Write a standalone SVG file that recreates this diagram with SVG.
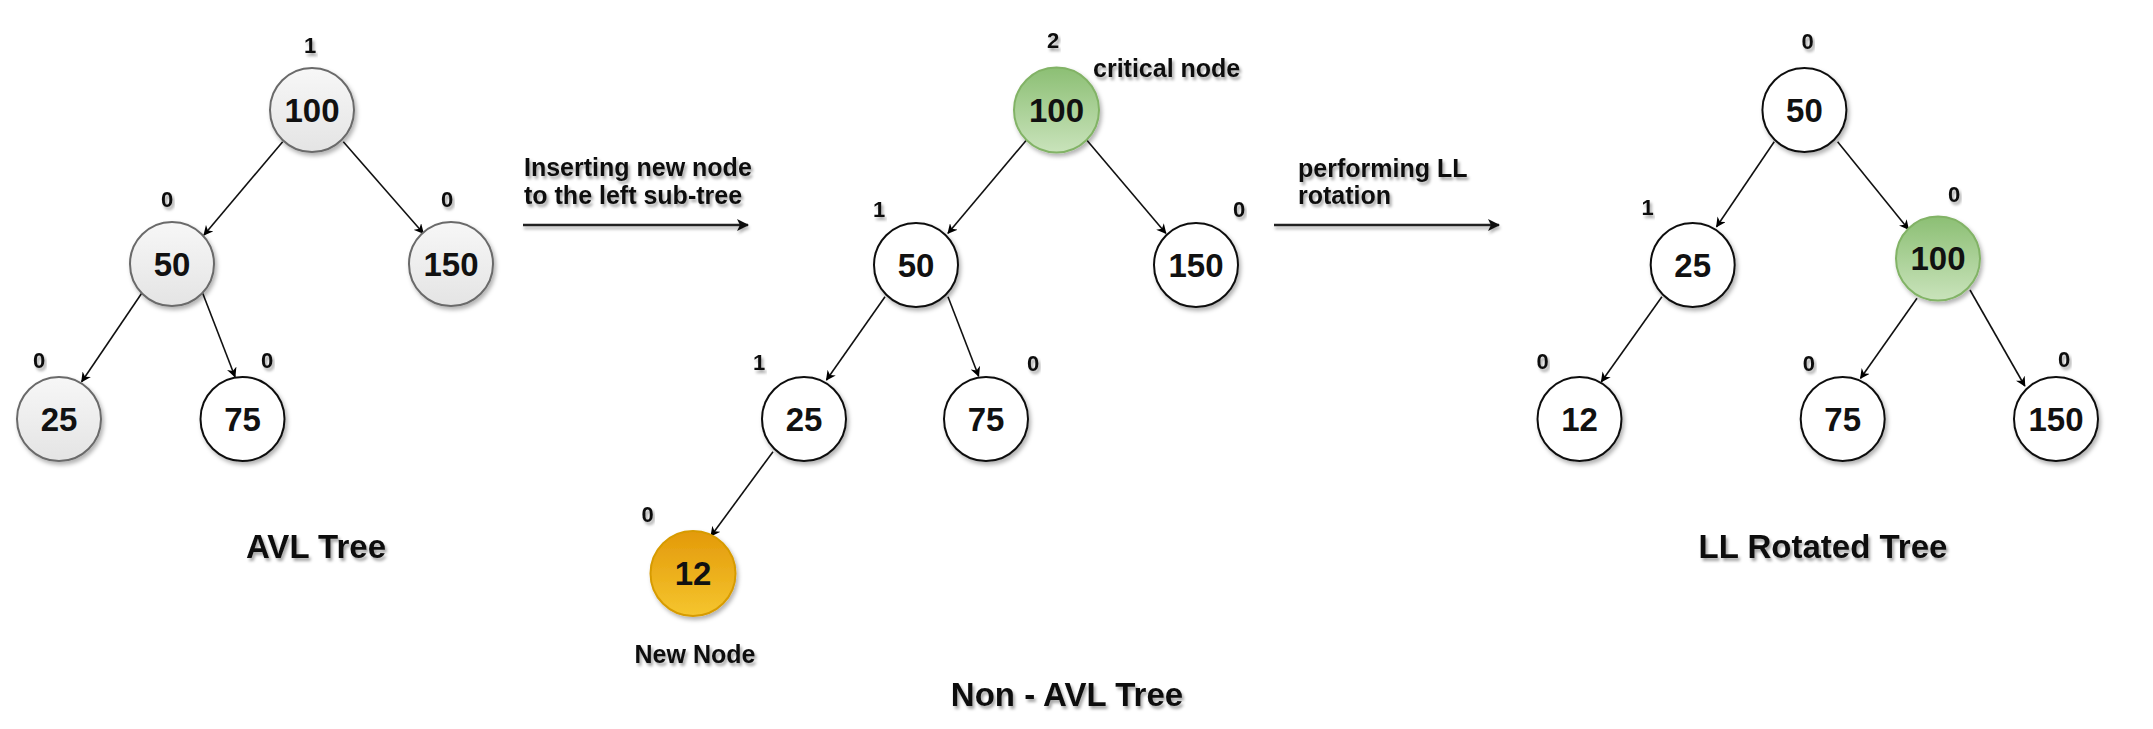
<svg xmlns="http://www.w3.org/2000/svg" width="2153" height="729" viewBox="0 0 2153 729">
<defs>
  <filter id="sh" x="-30%" y="-30%" width="160%" height="160%">
    <feDropShadow dx="2" dy="3" stdDeviation="2" flood-color="#000" flood-opacity="0.3"/>
  </filter>
  <filter id="tsh" x="-10%" y="-30%" width="120%" height="170%">
    <feDropShadow dx="2" dy="3" stdDeviation="1.6" flood-color="#000" flood-opacity="0.35"/>
  </filter>
  <filter id="lsh" filterUnits="userSpaceOnUse" x="0" y="0" width="2153" height="729">
    <feDropShadow dx="1" dy="3" stdDeviation="1.5" flood-color="#000" flood-opacity="0.3"/>
  </filter>
  <linearGradient id="gGray" x1="0" y1="0" x2="0" y2="1">
    <stop offset="0" stop-color="#f7f7f7"/>
    <stop offset="1" stop-color="#e4e4e4"/>
  </linearGradient>
  <linearGradient id="gGreen" x1="0" y1="0" x2="0" y2="1">
    <stop offset="0" stop-color="#8cbf74"/>
    <stop offset="1" stop-color="#c9e3bb"/>
  </linearGradient>
  <linearGradient id="gOrange" x1="0" y1="0" x2="0" y2="1">
    <stop offset="0" stop-color="#e39a0a"/>
    <stop offset="1" stop-color="#f5c52e"/>
  </linearGradient>
  <marker id="ah" viewBox="0 0 10 10" refX="9" refY="5" markerWidth="10" markerHeight="10" markerUnits="userSpaceOnUse" orient="auto">
    <path d="M0,0 L10,5 L0,10 L3,5 z" fill="#000"/>
  </marker>
  <marker id="ahBig" viewBox="0 0 12 12" refX="11" refY="6" markerWidth="12" markerHeight="12" markerUnits="userSpaceOnUse" orient="auto">
    <path d="M0,0 L12,6 L0,12 L3,6 z" fill="#111"/>
  </marker>
  <style>
    .n circle { stroke-width: 2; filter: url(#sh); }
    .gray circle { fill: url(#gGray); stroke: #6a6a6a; }
    .white circle { fill: #ffffff; stroke: #111; }
    .green circle { fill: url(#gGreen); stroke: #82b366; }
    .orange circle { fill: url(#gOrange); stroke: #d79b00; }
    .n text { font-family: "Liberation Sans", Arial, sans-serif; font-weight: bold; font-size: 33px; fill: #111; text-anchor: middle; }
    .bal { font-family: "Liberation Sans", Arial, sans-serif; font-weight: bold; font-size: 22px; fill: #111; text-anchor: middle; filter: url(#tsh); }
    .lbl { font-family: "Liberation Sans", Arial, sans-serif; font-weight: bold; font-size: 25px; fill: #111; filter: url(#tsh); }
    .title { font-family: "Liberation Sans", Arial, sans-serif; font-weight: bold; font-size: 33px; fill: #111; text-anchor: middle; filter: url(#tsh); }
    .e line { stroke: #111; stroke-width: 1.6; marker-end: url(#ah); }
    .big line { stroke: #222; stroke-width: 2.4; marker-end: url(#ahBig); }
  </style>
</defs>
<rect width="2153" height="729" fill="#ffffff"/>

<!-- connectors -->
<g id="connectors" class="e">
  <!-- tree 1 -->
  <line x1="282.7" y1="141.7" x2="204" y2="235"/>
  <line x1="343.3" y1="141.7" x2="423.3" y2="233.3"/>
  <line x1="141.7" y1="293.3" x2="81.7" y2="381.7"/>
  <line x1="202.7" y1="293.3" x2="235" y2="376.7"/>
  <!-- tree 2 -->
  <line x1="1026.5" y1="140" x2="948" y2="233.3"/>
  <line x1="1086.7" y1="140" x2="1165.8" y2="233.3"/>
  <line x1="885" y1="296.7" x2="826.5" y2="380"/>
  <line x1="948" y1="296.7" x2="978.6" y2="376"/>
  <line x1="773" y1="451.7" x2="711" y2="536"/>
  <!-- tree 3 -->
  <line x1="1774.2" y1="141.7" x2="1716.6" y2="226.7"/>
  <line x1="1837.6" y1="141.7" x2="1908.4" y2="229.3"/>
  <line x1="1661.9" y1="296.7" x2="1601.4" y2="381.7"/>
  <line x1="1917" y1="298.3" x2="1860.6" y2="378.3"/>
  <line x1="1970" y1="290" x2="2024.8" y2="386"/>
</g>
<g id="step-arrows" class="big" filter="url(#lsh)">
  <line x1="523" y1="225" x2="748" y2="225"/>
  <line x1="1274" y1="225" x2="1499" y2="225"/>
</g>

<!-- tree 1 nodes -->
<g id="t1-100" class="n gray"><circle cx="312" cy="110" r="42"/><text x="312" y="121.5">100</text></g>
<g id="t1-50" class="n gray"><circle cx="172" cy="264" r="42"/><text x="172" y="275.5">50</text></g>
<g id="t1-150" class="n gray"><circle cx="451" cy="264" r="42"/><text x="451" y="275.5">150</text></g>
<g id="t1-25" class="n gray"><circle cx="59" cy="419" r="42"/><text x="59" y="430.5">25</text></g>
<g id="t1-75" class="n white"><circle cx="242.5" cy="419" r="42"/><text x="242.5" y="430.5">75</text></g>

<!-- tree 2 nodes -->
<g id="t2-100" class="n green"><circle cx="1056.5" cy="110" r="42.5"/><text x="1056.5" y="121.5">100</text></g>
<g id="t2-50" class="n white"><circle cx="916" cy="265" r="42"/><text x="916" y="276.5">50</text></g>
<g id="t2-150" class="n white"><circle cx="1196" cy="265" r="42"/><text x="1196" y="276.5">150</text></g>
<g id="t2-25" class="n white"><circle cx="804" cy="419" r="42"/><text x="804" y="430.5">25</text></g>
<g id="t2-75" class="n white"><circle cx="986" cy="419" r="42"/><text x="986" y="430.5">75</text></g>
<g id="t2-12" class="n orange"><circle cx="693" cy="573.5" r="42.5"/><text x="693" y="585">12</text></g>

<!-- tree 3 nodes -->
<g id="t3-50" class="n white"><circle cx="1804.4" cy="110" r="42"/><text x="1804.4" y="121.5">50</text></g>
<g id="t3-25" class="n white"><circle cx="1692.7" cy="265" r="42"/><text x="1692.7" y="276.5">25</text></g>
<g id="t3-100" class="n green"><circle cx="1938" cy="258.5" r="42"/><text x="1938" y="270">100</text></g>
<g id="t3-12" class="n white"><circle cx="1579.5" cy="419" r="42"/><text x="1579.5" y="430.5">12</text></g>
<g id="t3-75" class="n white"><circle cx="1842.7" cy="419" r="42"/><text x="1842.7" y="430.5">75</text></g>
<g id="t3-150" class="n white"><circle cx="2056" cy="419" r="42"/><text x="2056" y="430.5">150</text></g>

<!-- balance factors -->
<g id="balance">
  <text class="bal" x="310" y="53">1</text>
  <text class="bal" x="167" y="207">0</text>
  <text class="bal" x="447" y="207">0</text>
  <text class="bal" x="39" y="368">0</text>
  <text class="bal" x="267" y="368">0</text>

  <text class="bal" x="1053" y="48">2</text>
  <text class="bal" x="879" y="217">1</text>
  <text class="bal" x="1239" y="217">0</text>
  <text class="bal" x="759" y="370">1</text>
  <text class="bal" x="1033" y="371">0</text>
  <text class="bal" x="647.5" y="522">0</text>

  <text class="bal" x="1807.6" y="49">0</text>
  <text class="bal" x="1647.5" y="215">1</text>
  <text class="bal" x="1954" y="202">0</text>
  <text class="bal" x="1542.6" y="369">0</text>
  <text class="bal" x="1808.8" y="371">0</text>
  <text class="bal" x="2064" y="367">0</text>
</g>

<!-- labels -->
<g id="labels">
  <text class="lbl" x="1093" y="77">critical node</text>
  <text class="lbl" x="695" y="663" text-anchor="middle">New Node</text>
  <text class="lbl" x="524" y="176">Inserting new node</text>
  <text class="lbl" x="524" y="204">to the left sub-tree</text>
  <text class="lbl" x="1298" y="177">performing LL</text>
  <text class="lbl" x="1298" y="204">rotation</text>
  <text class="title" x="316" y="558">AVL Tree</text>
  <text class="title" x="1067" y="706">Non - AVL Tree</text>
  <text class="title" x="1823" y="558">LL Rotated Tree</text>
</g>
</svg>
